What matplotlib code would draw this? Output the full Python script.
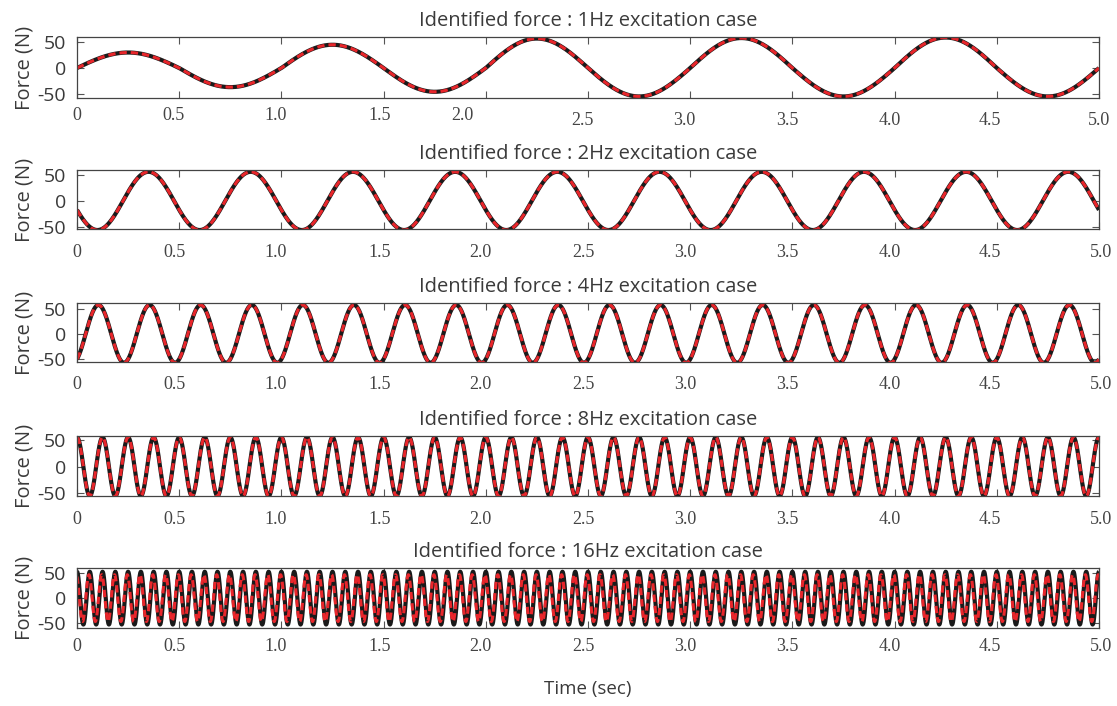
import matplotlib
matplotlib.use('Agg')
import matplotlib.pyplot as plt
import matplotlib.transforms as mtransforms
import numpy as np

# excitation cases (Hz)
freqs = [1, 2, 4, 8, 16]
titles = ['Identified force : %dHz excitation case' % f for f in freqs]

# 1Hz case: peak value of each half cycle (force builds up during the first cycles)
half_peaks_1hz = [30, 37, 45, 46, 57, 55, 58, 55, 59, 55]

# steady cases: amplitude (N) and time of first positive peak (s)
amp_true = [56, 58, 55, 53]
peak_t0 = [0.35, 0.105, 0.0, 0.0]
# identified force for the 16Hz case differs slightly in amplitude and phase
amp_ident_16 = 47
lead_ident_16 = 0.004

x_ticks = [0, 0.5, 1.0, 1.5, 2.0, 2.5, 3.0, 3.5, 4.0, 4.5, 5.0]
x_ticklabels = ['0', '0.5', '1.0', '1.5', '2.0', '2.5', '3.0', '3.5', '4.0', '4.5', '5.0']
y_ticks = [-50, 0, 50]
y_lims = [(-58, 60), (-54, 59.5), (-56.5, 62), (-55, 57.5), (-60, 60.5)]

t = np.linspace(0, 5, 8001)

# build the signals
signals = []
k = np.minimum((t / 0.5).astype(int), len(half_peaks_1hz) - 1)
f1 = np.array(half_peaks_1hz)[k] * np.sin(2 * np.pi * 1 * t)
signals.append((f1, f1))
for i, f in enumerate(freqs[1:]):
    true_f = amp_true[i] * np.cos(2 * np.pi * f * (t - peak_t0[i]))
    if f == 16:
        ident_f = amp_ident_16 * np.cos(2 * np.pi * f * (t - peak_t0[i] + lead_ident_16))
    else:
        ident_f = true_f
    signals.append((true_f, ident_f))

sans = ['Open Sans', 'DejaVu Sans']
serif = ['Liberation Serif', 'DejaVu Serif']
text_col = '#3a3a3a'

fig = plt.figure(figsize=(11.17, 7.06), dpi=100)
W, H = 1117.0, 706.0
left, right = 77, 1099
tops = [37, 170, 303, 436, 568]
heights = [61, 59, 59, 60, 60]
label_pad = [6.5, 10.5, 10, 10.5, 7]

# small shifts of the tick labels (pixels)
dx_std = [0, -5, -6, -4, -5, -5, -5, -5, -5, -7, 2]
dx_top = [0, -6, -6, -4, -23, -6, -6, -5, -5, -7, 0]
dy_top = [0, 0, 0, 0, 0, -5, -5, -5, -5, -5, -5]

for i in range(5):
    ax = fig.add_axes([left / W, 1 - (tops[i] + heights[i]) / H,
                       (right - left) / W, heights[i] / H])
    true_f, ident_f = signals[i]
    ax.plot(t, true_f, color='#1a1a1a', lw=3.0, solid_capstyle='butt')
    ax.plot(t, ident_f, color='#e8262b', lw=2.2, dashes=(2.4, 1.3))
    ax.set_xlim(0, 5)
    ax.set_ylim(*y_lims[i])
    ax.set_xticks(x_ticks)
    ax.set_xticklabels(x_ticklabels)
    ax.set_yticks(y_ticks)
    ax.set_yticklabels(['-50', '0', '50'])
    ax.tick_params(axis='both', direction='in', top=True, right=True,
                   length=5, width=0.8, color='#555555')
    ax.tick_params(axis='x', pad=label_pad[i], labelsize=13, labelcolor='#444444')
    ax.tick_params(axis='y', pad=8, labelsize=14, labelcolor=text_col)
    for lab in ax.get_xticklabels():
        lab.set_family(serif)
    for lab in ax.get_yticklabels():
        lab.set_family(sans)
    for s in ax.spines.values():
        s.set_color('#444444')
        s.set_linewidth(0.9)
    dxs = dx_top if i == 0 else dx_std
    dys = dy_top if i == 0 else [0] * len(x_ticks)
    for lab, dx, dy in zip(ax.get_xticklabels(), dxs, dys):
        off = mtransforms.ScaledTranslation(dx / 100.0, dy / 100.0, fig.dpi_scale_trans)
        lab.set_transform(lab.get_transform() + off)
    ax.set_title(titles[i], fontsize=14.5, family=sans, color=text_col, pad=8)
    ax.set_ylabel('Force (N)', fontsize=14.5, family=sans, color=text_col, labelpad=2)

fig.text(588 / W, 1 - 689 / H, 'Time (sec)', ha='center', va='center',
         fontsize=13.5, family=sans, color=text_col)

fig.savefig('out.png', dpi=100)
